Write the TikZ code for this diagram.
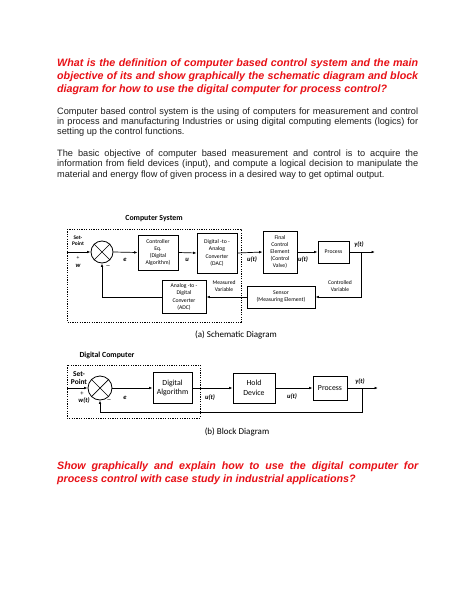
\documentclass[tikz,border=0pt]{standalone}
\usepackage{fontspec}
\setmainfont{Liberation Sans}
\newfontfamily\carl{Carlito}
\usetikzlibrary{arrows.meta}
\definecolor{qred}{RGB}{232,16,22}
\definecolor{txt}{RGB}{30,30,30}
\newcommand{\titlef}{\fontsize{10.7}{13}\selectfont\bfseries\itshape}
\newcommand{\bodyf}{\fontsize{9.2}{10.4}\selectfont}
\begin{document}
\begin{tikzpicture}[x=1pt,y=-1pt,
  blk/.style={draw, line width=0.8pt, inner sep=0pt, align=center, font=\carl\fontsize{5.7}{7.2}\selectfont},
  blkb/.style={draw, line width=0.8pt, inner sep=0pt, align=center, font=\carl\fontsize{7.8}{9.4}\selectfont},
  sumj/.style={draw, circle, line width=0.8pt, inner sep=0pt},
  conn/.style={line width=0.7pt, -{Latex[length=3.5pt,width=2.6pt]}},
  wire/.style={line width=0.7pt},
  dotbox/.style={line width=0.8pt, dash pattern=on 1.2pt off 1.2pt},
  lab/.style={font=\carl\fontsize{5.6}{6.6}\selectfont, align=center, inner sep=0pt},
  labb/.style={font=\carl\fontsize{7.4}{8.2}\selectfont\bfseries, align=center, inner sep=0pt},
  sig/.style={font=\carl\fontsize{6.6}{7}\selectfont\bfseries\itshape, inner sep=0pt},
  head/.style={font=\carl\fontsize{7.8}{9}\selectfont\bfseries, inner sep=0pt},
  capt/.style={font=\carl\fontsize{9}{10}\selectfont, inner sep=0pt},
  tline/.style={anchor=base west, inner sep=0pt, font=\titlef, text=qred},
  bline/.style={anchor=base west, inner sep=0pt, font=\bodyf, text=txt}]
\fill[white] (0,0) rectangle (474,613);
\useasboundingbox (0,0) rectangle (474,613);

% ---------- title question ----------
\node[tline] (t1) at (57,66) {\makebox[361pt][s]{What is the definition of computer based control system and the main}};
\node[tline] (t2) at (57,79) {\makebox[361pt][s]{objective of its and show graphically the schematic diagram and block}};
\node[tline] (t3) at (57,92) {diagram for how to use the digital computer for process control?};

% ---------- paragraph 1 ----------
\node[bline] (p1) at (57,114) {\makebox[361pt][s]{Computer based control system is the using of computers for measurement and control}};
\node[bline] (p2) at (57,124.4) {\makebox[361pt][s]{in process and manufacturing Industries or using digital computing elements (logics) for}};
\node[bline] (p3) at (57,134.8) {setting up the control functions.};

% ---------- paragraph 2 ----------
\node[bline] (q1) at (57,156.2) {\makebox[361pt][s]{The basic objective of computer based measurement and control is to acquire the}};
\node[bline] (q2) at (57,166.6) {\makebox[361pt][s]{information from field devices (input), and compute a logical decision to manipulate the}};
\node[bline] (q3) at (57,177) {material and energy flow of given process in a desired way to get optimal output.};

% ---------- (a) schematic diagram ----------
\node[head] (cs) at (154,219) {Computer System};
\draw[dotbox] (67,229) rectangle (241,322);

\node[sumj, minimum size=22pt] (sum) at (102,252) {};
\draw[line width=0.7pt] (sum.north west) -- (sum.south east) (sum.north east) -- (sum.south west);

\node[blk, minimum width=40pt, minimum height=35pt] (ctrl) at (158,252.5) {Controller\\Eq.\\(Digital\\Algorithm)};
\node[blk, minimum width=40pt, minimum height=40pt] (dac) at (217,253) {Digital -to -\\Analog\\Converter\\(DAC)};
\node[blk, minimum width=34pt, minimum height=42pt] (fce) at (280,252) {Final\\Control\\Element\\(Control\\Valve)};
\node[blk, minimum width=31pt, minimum height=22pt] (proc) at (333.5,252) {Process};
\node[blk, minimum width=68pt, minimum height=22pt] (sens) at (281,297) {Sensor\\(Measuring Element)};
\node[blk, minimum width=44pt, minimum height=33pt] (adc) at (184,297) {Analog -to -\\Digital\\Converter\\(ADC)};

\coordinate (spin) at (67,252);
\coordinate (br) at (361,252);
\coordinate (yout) at (375,252);
\coordinate (fbr) at (361,297);

\draw[conn] (spin) -- (sum.west);
\draw[conn] (sum.east) -- (ctrl.west);
\draw[conn] (ctrl.east) -- (dac.west);
\draw[conn] (dac.east) -- (fce.west);
\draw[conn] (fce.east) -- (proc.west);
\draw[conn] (proc.east) -- (yout);
\draw[conn] (br) -- (fbr) -- (sens.east);
\draw[conn] (sens.west) -- (adc.east);
\draw[conn] (adc.west) -| (sum.south);

\node[lab, font=\carl\fontsize{5.4}{6.2}\selectfont\bfseries] (sp) at (78,241) {Set-\\Point};
\node[lab] (plus) at (78,258) {+};
\node[sig] (w) at (78,266) {w};
\node[lab] (minus) at (108,267) {\textbf{--}};
\node[sig] (e) at (125,260) {e};
\node[sig] (u) at (187,260) {u};
\node[sig] (ut1) at (252,260) {u(t)};
\node[sig] (ut2) at (303,260) {u(t)};
\node[sig] (yt) at (359,245) {y(t)};
\node[lab] (cv) at (340,286) {Controlled\\Variable};
\node[lab] (mv) at (224,286) {Measured\\Variable};

\node[capt] (capa) at (236,335) {(a) Schematic Diagram};

% ---------- (b) block diagram ----------
\node[head] (dc) at (107,355) {Digital Computer};
\draw[dotbox] (67,365) rectangle (200,418);

\node[sumj, minimum size=24pt] (sum2) at (100,388) {};
\draw[line width=0.7pt] (sum2.north west) -- (sum2.south east) (sum2.north east) -- (sum2.south west);

\node[blkb, minimum width=39pt, minimum height=31pt] (da) at (172.5,388) {Digital\\Algorithm};
\node[blkb, minimum width=42pt, minimum height=30pt] (hold) at (254,388) {Hold\\Device};
\node[blkb, minimum width=34pt, minimum height=24pt] (proc2) at (330,388) {Process};

\coordinate (spin2) at (67,388);
\coordinate (br2) at (362,388);
\coordinate (yout2) at (378,388);
\coordinate (fb2) at (362,412);

\draw[conn] (spin2) -- (sum2.west);
\draw[conn] (sum2.east) -- (da.west);
\draw[conn] (da.east) -- (hold.west);
\draw[conn] (hold.east) -- (proc2.west);
\draw[conn] (proc2.east) -- (yout2);
\draw[conn] (br2) -- (fb2) -| (sum2.south);

\node[labb] (sp2) at (79,378) {Set-\\Point};
\node[lab, font=\carl\fontsize{6.5}{7}\selectfont] (plus2) at (82,394) {+};
\node[sig] (wt) at (84,401) {w(t)};
\node[lab] (minus2) at (109,401) {\textbf{--}};
\node[sig] (e2) at (125,398) {e};
\node[sig] (ut3) at (210,398) {u(t)};
\node[sig] (ut4) at (292,397) {u(t)};
\node[sig] (yt2) at (360,382) {y(t)};

\node[capt] (capb) at (237,432) {(b) Block Diagram};

% ---------- closing question ----------
\node[tline] (r1) at (57,469.5) {\makebox[361pt][s]{Show graphically and explain how to use the digital computer for}};
\node[tline] (r2) at (57,482) {process control with case study in industrial applications?};
\end{tikzpicture}
\end{document}
